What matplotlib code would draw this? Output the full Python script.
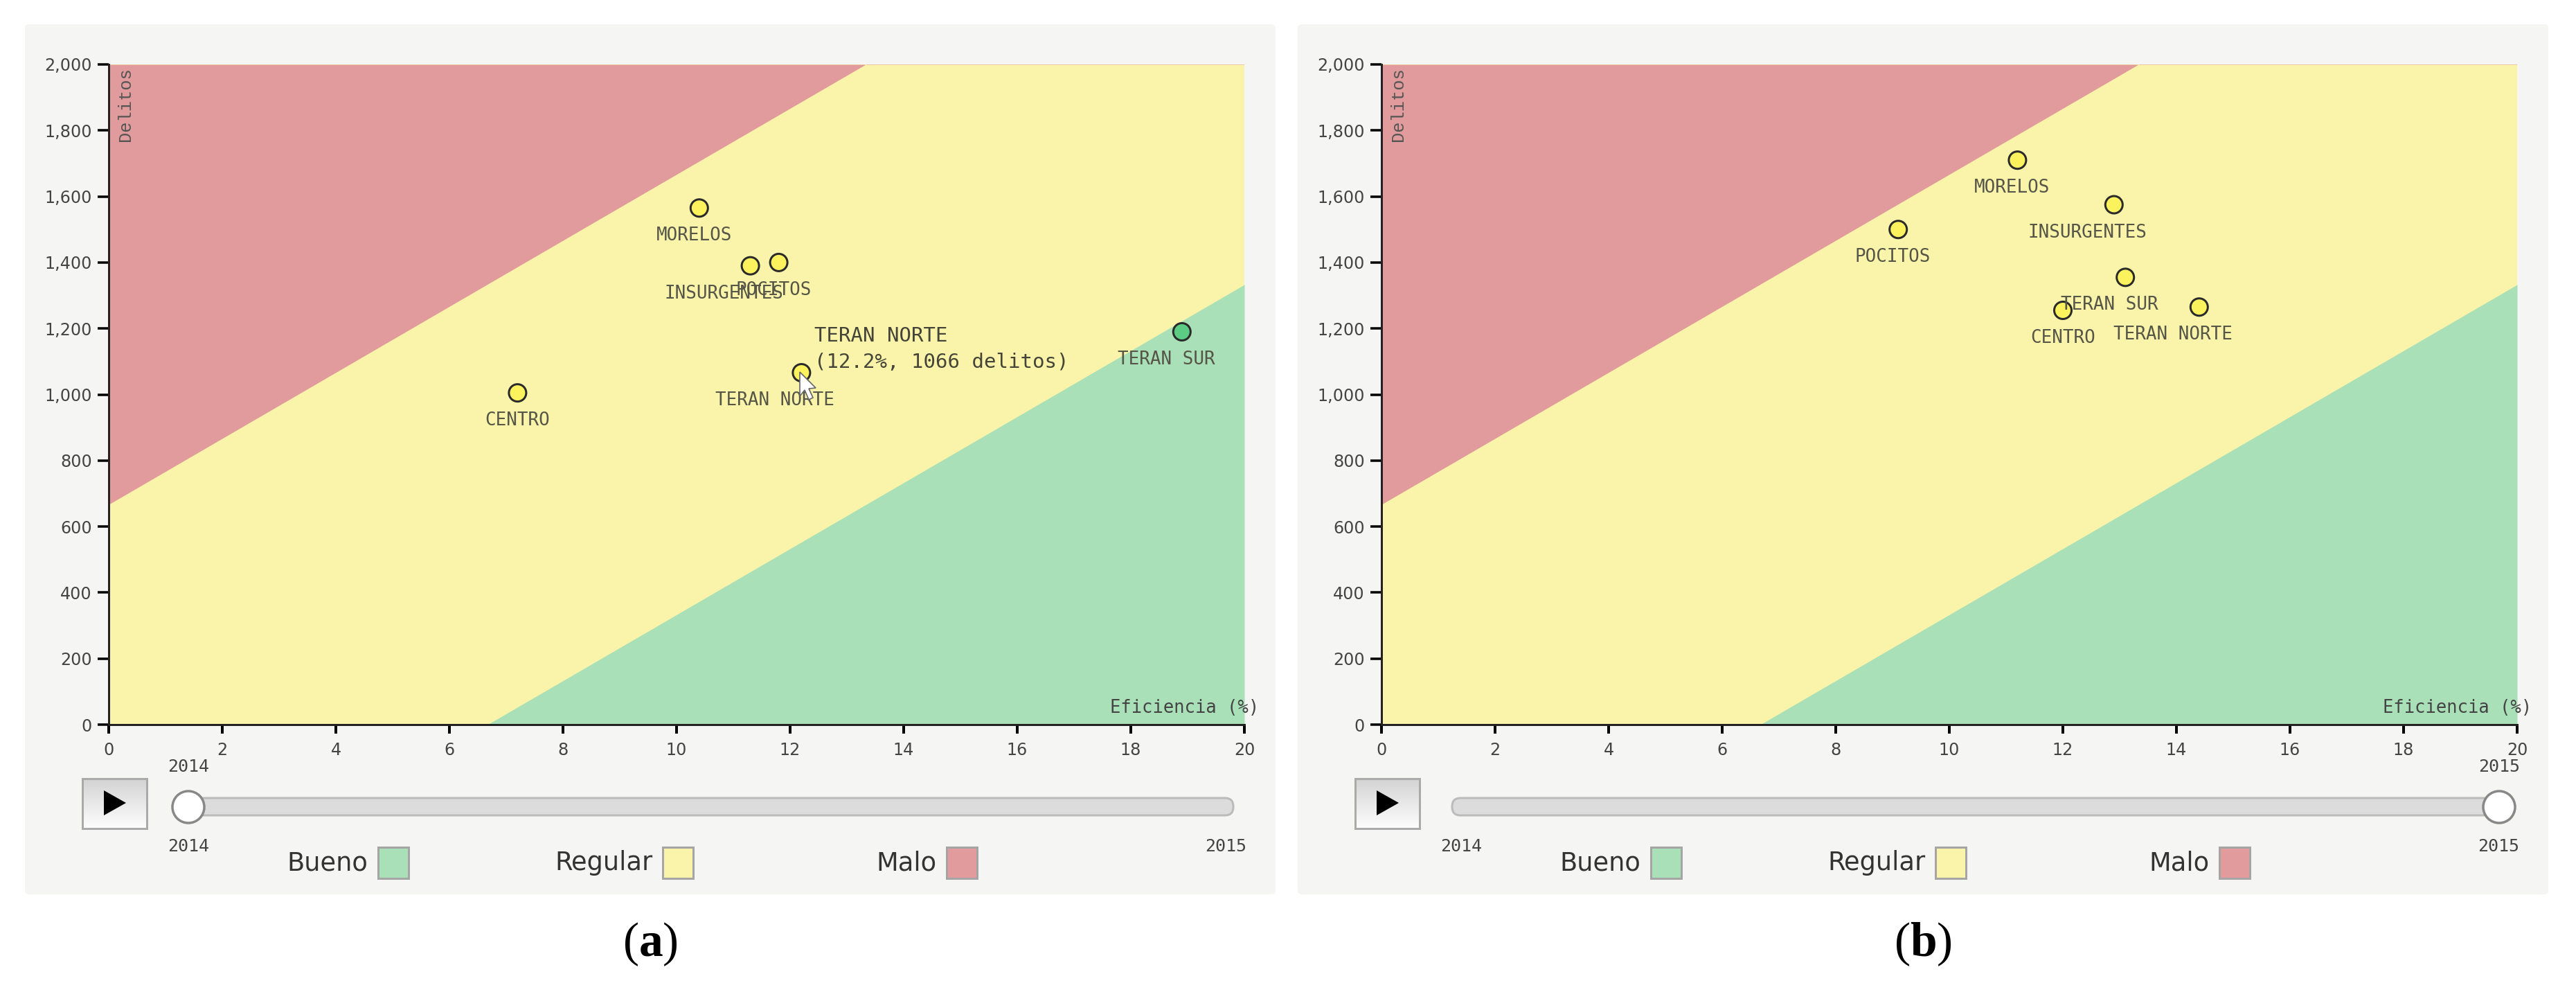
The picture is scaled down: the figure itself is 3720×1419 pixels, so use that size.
import matplotlib
matplotlib.use('Agg')
import matplotlib.pyplot as plt
import numpy as np
from matplotlib.patches import FancyBboxPatch, Polygon, Rectangle, Ellipse

plt.rcParams['mathtext.fontset'] = 'custom'
plt.rcParams['mathtext.bf'] = 'Liberation Serif:bold'

# Data
names_a = ['CENTRO', 'MORELOS', 'INSURGENTES', 'POCITOS', 'TERAN NORTE', 'TERAN SUR']
eff_a = [7.2, 10.4, 11.3, 11.8, 12.2, 18.9]
delitos_a = [1005, 1565, 1390, 1400, 1066, 1190]

names_b = ['POCITOS', 'MORELOS', 'INSURGENTES', 'TERAN SUR', 'CENTRO', 'TERAN NORTE']
eff_b = [9.1, 11.2, 12.9, 13.1, 12.0, 14.4]
delitos_b = [1500, 1710, 1575, 1355, 1255, 1265]

# Zone limits
zone_x = [0, 20]
malo_limit = [667, 2667]
bueno_limit = [-667, 1333]
y_max = 2000

x_ticks = [0, 2, 4, 6, 8, 10, 12, 14, 16, 18, 20]
y_ticks = [0, 200, 400, 600, 800, 1000, 1200, 1400, 1600, 1800, 2000]
legend_names = ['Bueno', 'Regular', 'Malo']

# Colors
RED = '#e29b9c'
YELLOW = '#f9f4a9'
GREEN = '#a9e0b8'
PANEL = '#f5f5f3'
MONO = 'DejaVu Sans Mono'

W, H = 3720, 1419
PX = 0.72  # pixels to points at dpi 100

fig = plt.figure(figsize=(W / 100, H / 100), dpi=100)
bg = fig.add_axes([0, 0, 1, 1], zorder=0)
bg.set_axis_off()


def draw_panel(shift, panel_w, names, eff, delitos, handle_x, top_year, caption, caption_x):
    # gray card behind everything
    bg.add_patch(FancyBboxPatch((36 + shift + 6, 41), panel_w - 12, 1244,
                                boxstyle='round,pad=6', fc=PANEL, ec='none'))

    left, right, top, bottom = 157 + shift, 1797 + shift, 93, 1046
    ax = fig.add_axes([left / W, 1 - bottom / H, (right - left) / W, (bottom - top) / H], zorder=1)
    ax.set_xlim(0, 20)
    ax.set_ylim(0, y_max)
    ax.set_facecolor(YELLOW)
    ax.fill_between(zone_x, malo_limit, [y_max, y_max], color=RED, lw=0)
    ax.fill_between(zone_x, [0, 0], bueno_limit, color=GREEN, lw=0)

    for side in ['top', 'right']:
        ax.spines[side].set_visible(False)
    for side in ['left', 'bottom']:
        ax.spines[side].set_linewidth(3 * PX)
        ax.spines[side].set_color('#222222')
    ax.set_xticks(x_ticks)
    ax.set_yticks(y_ticks)
    ax.set_yticklabels([f'{v:,}' for v in y_ticks])
    ax.tick_params(axis='x', length=13 * PX, width=4 * PX, pad=9, labelsize=17.2, labelcolor='#444444')
    ax.tick_params(axis='y', length=16 * PX, width=3.5 * PX, pad=6, labelsize=17.2, labelcolor='#444444')

    # axis names sit inside the plot
    ax.annotate('Delitos', xy=(0, 1), xycoords='axes fraction', xytext=(24 * PX, -4 * PX),
                textcoords='offset points', rotation=90, ha='center', va='top',
                family='Liberation Mono', fontsize=18.4, color='#555555')
    ax.annotate('Eficiencia (%)', xy=(1, 0), xycoords='axes fraction', xytext=(21 * PX, 24 * PX),
                textcoords='offset points', ha='right', va='center', family=MONO,
                fontsize=18.4, color='#444444', annotation_clip=False)

    # districts
    colors = []
    for x, y in zip(eff, delitos):
        colors.append('#5ccc85' if y < 100 * x - 667 else '#fbf25e')
    ax.scatter(eff, delitos, s=(25 * PX) ** 2, c=colors, edgecolors='#2a2a2a',
               linewidths=3 * PX, zorder=3, clip_on=False)
    for name, x, y in zip(names, eff, delitos):
        dx = -(len(name) - 6) * 7.6
        ax.annotate(name, xy=(x, y), xytext=(dx * PX, -40 * PX), textcoords='offset points',
                    ha='center', va='center', family=MONO, fontsize=18.6, color='#555548', zorder=4)

    # play button
    grad = np.linspace(0, 1, 64).reshape(-1, 1)
    bg.imshow(grad, extent=(119 + shift, 212 + shift, 1196, 1124), cmap='gray', vmin=-5, vmax=1.05,
              aspect='auto', zorder=2, origin='upper')
    bg.add_patch(Rectangle((119 + shift, 1124), 93, 72, fc='none', ec='#aaaaaa', lw=3 * PX, zorder=3))
    bg.add_patch(Polygon([(150 + shift, 1141), (182 + shift, 1159), (150 + shift, 1177)],
                         fc='black', ec='none', zorder=4))

    # slider
    bg.add_patch(FancyBboxPatch((271 + shift, 1164), 1498, 1,
                                boxstyle='round,pad=12', fc='#dcdcdc', ec='#bbbbbb', lw=3 * PX, zorder=2))
    bg.add_patch(Ellipse((handle_x + shift, 1165), 46, 46, fc='white', ec='#888888', lw=3.5 * PX, zorder=3))
    bg.text(handle_x + shift, 1107, top_year, ha='center', va='center', family=MONO,
            fontsize=18, color='#444444')
    bg.text(272 + shift, 1222, '2014', ha='center', va='center', family=MONO, fontsize=18, color='#444444')
    bg.text(1770 + shift, 1222, '2015', ha='center', va='center', family=MONO, fontsize=18, color='#444444')

    # legend
    for label, text_right, box_left, color in zip(legend_names, [531, 943, 1352], [546, 957, 1367],
                                                  [GREEN, YELLOW, RED]):
        bg.text(text_right + shift, 1246, label, ha='right', va='center', fontsize=26.5, color='#333333')
        bg.add_patch(Rectangle((box_left + shift, 1223), 44, 45, fc=color, ec='#a5a5a5', lw=3 * PX, zorder=3))

    bg.text(caption_x, 1363, f'($\\mathbf{{{caption}}}$)', ha='center', va='center',
            family='Liberation Serif', fontsize=50, color='black')
    return ax


ax_a = draw_panel(0, 1806, names_a, eff_a, delitos_a, 272, '2014', 'a', 939)
ax_b = draw_panel(1838, 1806, names_b, eff_b, delitos_b, 1771, '2015', 'b', 2777)

# hover box and pointer from the first panel
ax_a.annotate('TERAN NORTE\n(12.2%, 1066 delitos)', xy=(eff_a[4], delitos_a[4]),
              xytext=(19 * PX, 1 * PX), textcoords='offset points', ha='left', va='bottom',
              family=MONO, fontsize=20.9, color='#444438', linespacing=1.45, zorder=5)
cursor = [(1155, 537), (1155, 572), (1162, 563), (1168, 577), (1174, 574), (1168, 561), (1178, 560)]
ax_a.add_patch(Polygon(cursor, closed=True, fc='white', ec='#666666', lw=1.2,
                       transform=bg.transData, clip_on=False, zorder=6))

bg.set_xlim(0, W)
bg.set_ylim(H, 0)

fig.savefig('out.png', dpi=100, facecolor='white')
